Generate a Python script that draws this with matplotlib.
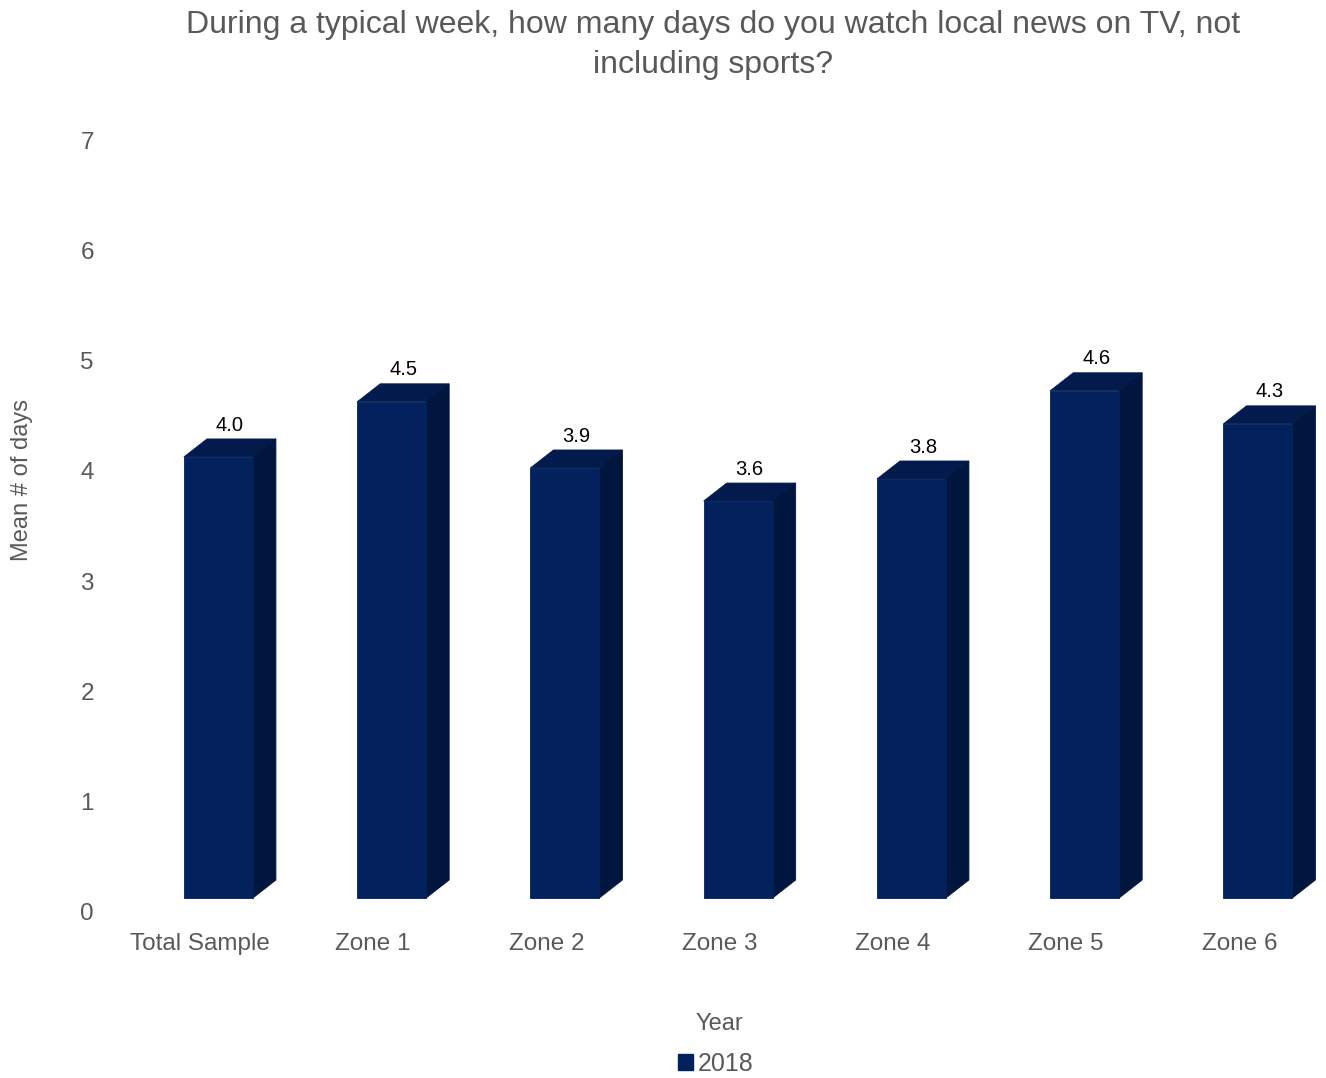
import numpy as np
import matplotlib.pyplot as plt
from matplotlib.patches import Polygon

plt.rcParams['font.family'] = ['Liberation Sans', 'DejaVu Sans']

# data
categories = ['Total Sample', 'Zone 1', 'Zone 2', 'Zone 3', 'Zone 4', 'Zone 5', 'Zone 6']
means = [4.0, 4.5, 3.9, 3.6, 3.8, 4.6, 4.3]
series_name = '2018'

front_col = '#02215d'
top_col = '#021a4c'
side_col = '#01163f'
grey = '#595959'

fig = plt.figure(figsize=(13.26, 10.78), dpi=100)
ax = fig.add_axes([0.0854, 0.154, 0.9146, 0.716])

# fake 3d geometry (in category / data units)
off_x = -0.092   # front face left edge relative to category
w = 0.398        # front face width
dx = 0.133       # depth, horizontal
dy = 0.163       # depth, vertical
base = 0.127     # front face is lifted a bit off zero

x = np.arange(len(categories))
ax.bar(x + off_x, means, width=w, bottom=base, align='edge',
       color=front_col, edgecolor=front_col, linewidth=0.6, zorder=4)

for xi, v in zip(x, means):
    l = xi + off_x
    r = l + w
    t = base + v
    top = Polygon([(l, t), (r, t), (r + dx, t + dy), (l + dx, t + dy)],
                  closed=True, facecolor=top_col, edgecolor=top_col, lw=0.6, zorder=3)
    side = Polygon([(r, base), (r + dx, base + dy), (r + dx, t + dy), (r, t)],
                   closed=True, facecolor=side_col, edgecolor=side_col, lw=0.6, zorder=3)
    ax.add_patch(top)
    ax.add_patch(side)
    ax.text(l + (w + dx) / 2, t + dy + 0.04, f'{v:.1f}', ha='center', va='bottom',
            fontsize=14.5, color='black')

ax.set_xlim(-0.5, 6.5)
ax.set_ylim(0, 7)
ax.set_yticks(range(8))
ax.set_xticks(x)
ax.set_xticklabels(categories)
ax.tick_params(axis='both', length=0, labelsize=17.5, colors=grey)
ax.tick_params(axis='y', pad=14)
ax.tick_params(axis='x', pad=15)
for s in ax.spines.values():
    s.set_visible(False)

ax.set_ylabel('Mean # of days', fontsize=17, color=grey)
ax.yaxis.set_label_coords(-0.066, 0.56)
ax.set_xlabel('Year', fontsize=17, color=grey, labelpad=42)

fig.suptitle('During a typical week, how many days do you watch local news on TV, not\nincluding sports?',
             x=0.538, y=0.991, fontsize=23, color=grey, va='top', linespacing=1.45)

handle = plt.Rectangle((0, 0), 1, 1, color=front_col)
fig.legend([handle], [series_name], loc='center', bbox_to_anchor=(0.54, 0.013),
           frameon=False, fontsize=18, labelcolor=grey, handlelength=0.6,
           handleheight=0.6, handletextpad=0.2)

fig.savefig('out.png', dpi=100)
